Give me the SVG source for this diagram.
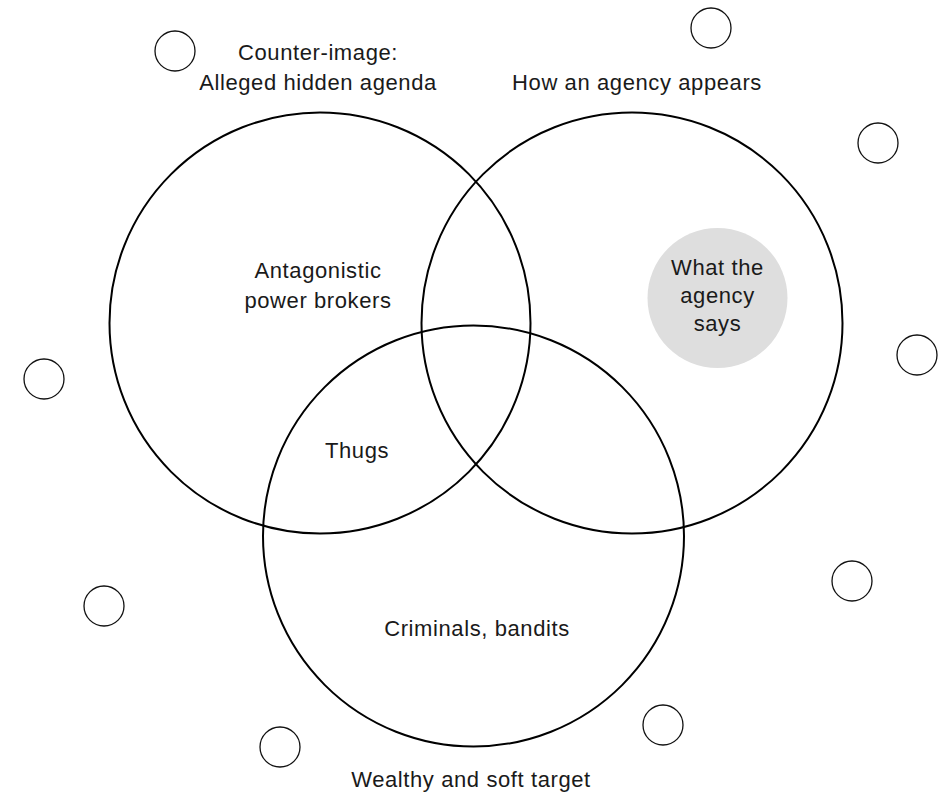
<svg xmlns="http://www.w3.org/2000/svg" width="942" height="792" viewBox="0 0 942 792">
<style>
.big{fill:none;stroke:#000;stroke-width:2}
.small{fill:none;stroke:#111;stroke-width:1.3}
.lbl{font-family:"Liberation Sans",Arial,sans-serif;font-size:22px;fill:#1a1a1a;text-anchor:middle;letter-spacing:0.6px}
</style>
<rect width="942" height="792" fill="#fff"/>
<g id="agency-says">
<circle cx="717.5" cy="298" r="70" fill="#dedede"/>
<text class="lbl" x="717.5" y="275">What the</text>
<text class="lbl" x="717.5" y="303">agency</text>
<text class="lbl" x="717.5" y="331">says</text>
</g>
<g id="circle-counter">
<circle class="big" cx="320" cy="323" r="210.5"/>
<text class="lbl" x="318" y="60">Counter-image:</text>
<text class="lbl" x="318" y="90">Alleged hidden agenda</text>
</g>
<g id="circle-appears">
<circle class="big" cx="632" cy="323" r="210.5"/>
<text class="lbl" x="637" y="90">How an agency appears</text>
</g>
<g id="circle-target">
<circle class="big" cx="473.5" cy="536" r="210.5"/>
<text class="lbl" x="471" y="787">Wealthy and soft target</text>
</g>
<g id="label-power-brokers">
<text class="lbl" x="318" y="278">Antagonistic</text>
<text class="lbl" x="318" y="308">power brokers</text>
</g>
<g id="label-thugs">
<text class="lbl" x="357" y="458">Thugs</text>
</g>
<g id="label-criminals">
<text class="lbl" x="477" y="636">Criminals, bandits</text>
</g>
<g id="small-circles">
<circle class="small" cx="175" cy="51" r="20"/>
<circle class="small" cx="711" cy="28" r="20"/>
<circle class="small" cx="878" cy="143" r="20"/>
<circle class="small" cx="44" cy="379" r="20"/>
<circle class="small" cx="917" cy="355" r="20"/>
<circle class="small" cx="104" cy="606" r="20"/>
<circle class="small" cx="852" cy="581" r="20"/>
<circle class="small" cx="663" cy="725" r="20"/>
<circle class="small" cx="280" cy="747" r="20"/>
</g>
<g id="connectors"></g>
</svg>
